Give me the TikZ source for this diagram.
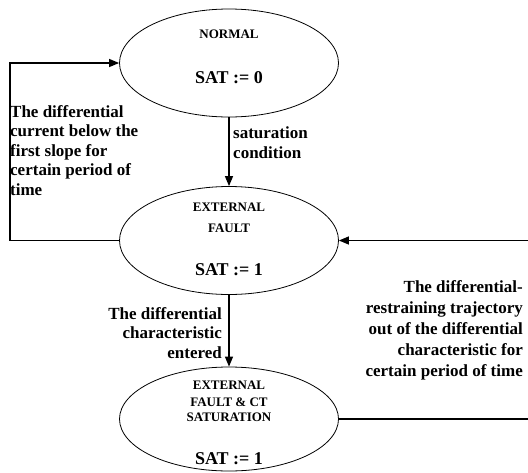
\documentclass[tikz,border=0pt]{standalone}
\usepackage{fontspec}
\setmainfont{Liberation Serif}
\usetikzlibrary{shapes.geometric,arrows.meta}
\begin{document}
\begin{tikzpicture}[x=1pt,y=-1pt,
  state/.style={draw,ellipse,line width=0.8pt,minimum width=219pt,minimum height=108pt,inner sep=0pt},
  conn/.style={line width=1.3pt,-{Triangle[length=10pt,width=8pt]}},
  lbl/.style={font=\fontsize{17}{19.5}\selectfont\bfseries,inner sep=0pt},
  small/.style={font=\fontsize{13}{15}\selectfont\bfseries,inner sep=0pt,anchor=base},
  big/.style={font=\fontsize{18}{20}\selectfont\bfseries,inner sep=0pt,anchor=base}]
\useasboundingbox (0,0) rectangle (528,472);
% states
\node[state] (n) at (229,63) {};
\node[state] (e) at (229,240.5) {};
\node[state,minimum height=104pt] (s) at (229,419) {};
% state texts
\node[small] (t1) at (229,38.5) {NORMAL};
\node[big] (t2) at (229,83) {SAT := 0};
\node[small] (t3) at (229,211) {EXTERNAL};
\node[small] (t4) at (229,232) {FAULT};
\node[big] (t5) at (229,275) {SAT := 1};
\node[small] (t6) at (229,389) {EXTERNAL};
\node[small] (t7) at (229,406) {FAULT \& CT};
\node[small] (t8) at (229,421) {SATURATION};
\node[big] (t9) at (229,464) {SAT := 1};
% connectors
\coordinate (l1) at (10,240.5);
\coordinate (l2) at (10,63);
\draw[conn] (e.west) -- (l1) -- (l2) -- (n.west);
\draw[conn] (n.south) -- (e.north);
\draw[conn] (e.south) -- (s.north);
\coordinate (r1) at (529,419);
\coordinate (r2) at (529,240.5);
\draw[conn] (s.east) -- (r1) -- (r2) -- (e.east);
% labels
\node[lbl,anchor=north west,align=left] (la) at (10,105)
  {The differential\\current below the\\first slope for\\certain period of\\time};
\node[lbl,anchor=north west,align=left] (lb) at (233,127)
  {saturation\\condition};
\node[lbl,anchor=north east,align=right] (lc) at (222,307)
  {The differential\\characteristic\\entered};
\node[lbl,anchor=north east,align=right,font=\fontsize{17}{21}\selectfont\bfseries] (ld) at (523,280.5)
  {The differential-\\restraining trajectory\\out of the differential\\characteristic for\\certain period of time};
\end{tikzpicture}
\end{document}
